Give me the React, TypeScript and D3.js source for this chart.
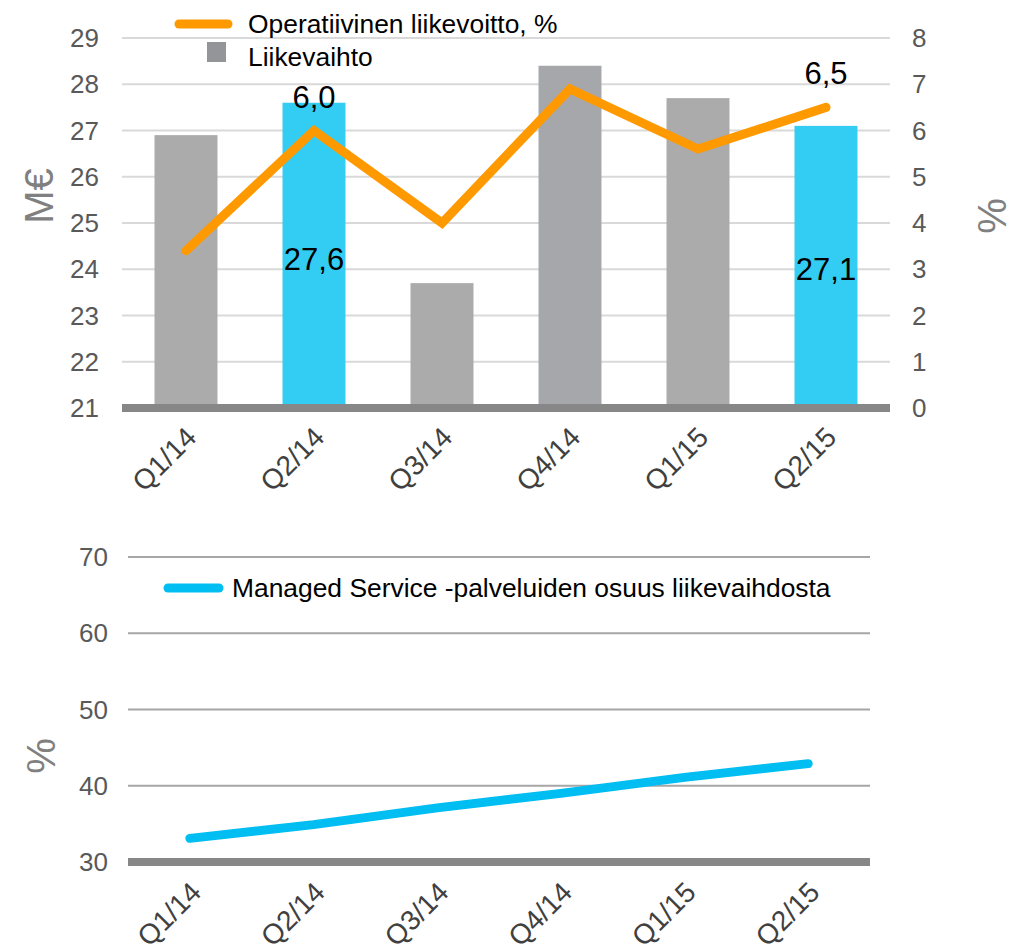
import React from "react";
import * as d3 from "d3";

const categories = ["Q1/14", "Q2/14", "Q3/14", "Q4/14", "Q1/15", "Q2/15"];
const revenue = [26.9, 27.6, 23.7, 28.4, 27.7, 27.1];
const opMargin = [3.4, 6.0, 4.0, 6.9, 5.6, 6.5];
const highlighted = ["Q2/14", "Q2/15"];
const managedShare = [33.1, 34.9, 37.1, 39.0, 41.1, 42.9];
const leftTicks = [21, 22, 23, 24, 25, 26, 27, 28, 29];
const rightTicks = [0, 1, 2, 3, 4, 5, 6, 7, 8];
const bottomTicks = [30, 40, 50, 60, 70];

const FONT = "'Liberation Sans', Arial, sans-serif";
const fmt = (v: number) => v.toFixed(1).replace(".", ",");

export default function App() {
  const W = 1013, H = 944;
  // top chart
  const x = d3.scaleBand<string>().domain(categories).range([122, 890]).paddingInner(0.508).paddingOuter(0.254);
  const yL = d3.scaleLinear().domain([21, 29]).range([408, 38]);
  const yR = d3.scaleLinear().domain([0, 8]).range([408, 38]);
  const cx = (c: string) => (x(c) as number) + x.bandwidth() / 2;
  const lineTop = d3.line<number>().x((_, i) => cx(categories[i])).y((d) => yR(d));

  // bottom chart
  const x2 = d3.scalePoint<string>().domain(categories).range([128, 870]).padding(0.5);
  const y2 = d3.scaleLinear().domain([30, 70]).range([862, 557]);
  const lineBottom = d3.line<number>().x((_, i) => x2(categories[i]) as number).y((d) => y2(d));

  return (
    <svg width={W} height={H} style={{ position: "absolute", left: 0, top: 0 }} fontFamily={FONT}>
      <rect width={W} height={H} fill="#fff" />
      {/* top gridlines */}
      {leftTicks.slice(1).map((t) => (
        <line key={t} x1={122} x2={890} y1={yL(t)} y2={yL(t)} stroke="#d9d9d9" strokeWidth={2} />
      ))}
      {/* bars */}
      {categories.map((c, i) => (
        <rect
          key={c}
          x={x(c)}
          y={yL(revenue[i])}
          width={x.bandwidth()}
          height={yL(21) - yL(revenue[i])}
          fill={highlighted.includes(c) ? "#33ccf3" : c === "Q4/14" ? "#a6a7ab" : "#ababab"}
        />
      ))}
      {/* baseline */}
      <line x1={122} x2={890} y1={yL(21)} y2={yL(21)} stroke="#878787" strokeWidth={8} />
      {/* line */}
      <path d={lineTop(opMargin) || ""} fill="none" stroke="#ff9900" strokeWidth={9} strokeLinecap="round" strokeLinejoin="miter" />
      {/* data labels */}
      {categories.map((c, i) =>
        highlighted.includes(c) ? (
          <g key={c}>
            <text x={cx(c)} y={yR(opMargin[i]) - 23} textAnchor="middle" fontSize={31} fill="#000">
              {fmt(opMargin[i])}
            </text>
            <text x={cx(c)} y={i === 1 ? 270 : 280} textAnchor="middle" fontSize={31} fill="#000">
              {fmt(revenue[i])}
            </text>
          </g>
        ) : null
      )}
      {/* left ticks */}
      {leftTicks.map((t) => (
        <text key={t} x={99} y={yL(t) + 9} textAnchor="end" fontSize={26} fill="#595959">
          {t}
        </text>
      ))}
      {rightTicks.map((t) => (
        <text key={t} x={912} y={yR(t) + 9} textAnchor="start" fontSize={26} fill="#595959">
          {t}
        </text>
      ))}
      <text transform="translate(53,196) rotate(-90)" textAnchor="middle" fontSize={40} fill="#808080">M€</text>
      <text transform="translate(1006,216) rotate(-90)" textAnchor="middle" fontSize={40} fill="#808080">%</text>
      {/* x labels top */}
      {categories.map((c) => (
        <text key={c} transform={`translate(${cx(c) + 12},${439}) rotate(-45)`} textAnchor="end" fontSize={28} fill="#404040">
          {c}
        </text>
      ))}
      {/* top legend */}
      <line x1={179} x2={228} y1={24} y2={24} stroke="#ff9900" strokeWidth={9} strokeLinecap="round" />
      <text x={248} y={33} fontSize={26.4} fill="#000">Operatiivinen liikevoitto, %</text>
      <rect x={207} y={42} width={19} height={20} fill="#939598" />
      <text x={248} y={66} fontSize={26.4} fill="#000">Liikevaihto</text>

      {/* bottom chart */}
      {bottomTicks.slice(1).map((t) => (
        <line key={t} x1={128} x2={870} y1={y2(t)} y2={y2(t)} stroke="#a6a6a6" strokeWidth={2} />
      ))}
      <line x1={128} x2={870} y1={y2(30)} y2={y2(30)} stroke="#878787" strokeWidth={8} />
      <path d={lineBottom(managedShare) || ""} fill="none" stroke="#00bdf2" strokeWidth={9} strokeLinecap="round" />
      {bottomTicks.map((t) => (
        <text key={t} x={108} y={y2(t) + 9} textAnchor="end" fontSize={26} fill="#595959">
          {t}
        </text>
      ))}
      <text transform="translate(55,756) rotate(-90)" textAnchor="middle" fontSize={40} fill="#808080">%</text>
      {categories.map((c) => (
        <text key={c} transform={`translate(${(x2(c) as number) + 13},${894}) rotate(-45)`} textAnchor="end" fontSize={28} fill="#404040">
          {c}
        </text>
      ))}
      <line x1={168} x2={219} y1={588} y2={588} stroke="#00bdf2" strokeWidth={9} strokeLinecap="round" />
      <text x={232} y={597} fontSize={26.4} fill="#000">Managed Service -palveluiden osuus liikevaihdosta</text>
    </svg>
  );
}
